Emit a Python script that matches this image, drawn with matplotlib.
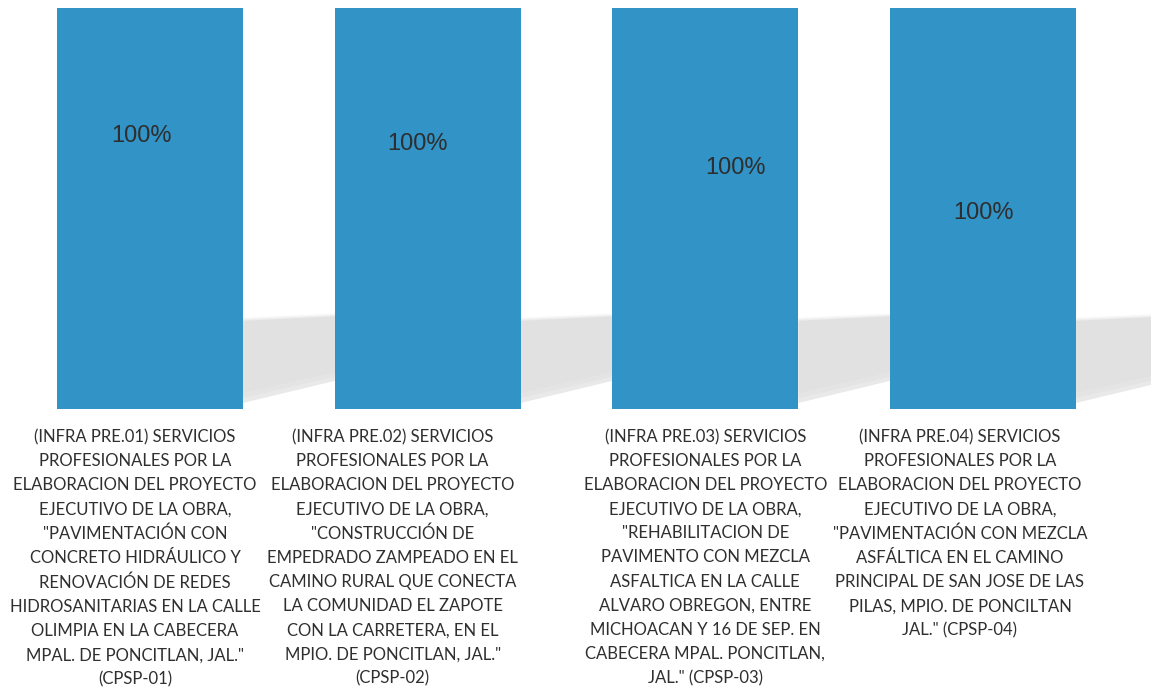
import numpy as np
import matplotlib
matplotlib.use("Agg")
from matplotlib import pyplot as plt
from matplotlib.patches import Polygon

categories = [
    "(INFRA PRE.01) SERVICIOS\nPROFESIONALES POR LA\nELABORACION DEL PROYECTO\nEJECUTIVO DE LA OBRA,\n"
    "\"PAVIMENTACIÓN CON\nCONCRETO HIDRÁULICO Y\nRENOVACIÓN DE REDES\nHIDROSANITARIAS EN LA CALLE\n"
    "OLIMPIA EN LA CABECERA\nMPAL. DE PONCITLAN, JAL.\"\n(CPSP-01)",
    "(INFRA PRE.02) SERVICIOS\nPROFESIONALES POR LA\nELABORACION DEL PROYECTO\nEJECUTIVO DE LA OBRA,\n"
    "\"CONSTRUCCIÓN DE\nEMPEDRADO ZAMPEADO EN EL\nCAMINO RURAL QUE CONECTA\nLA COMUNIDAD EL ZAPOTE\n"
    "CON LA CARRETERA, EN EL\nMPIO. DE PONCITLAN, JAL.\"\n(CPSP-02)",
    "(INFRA PRE.03) SERVICIOS\nPROFESIONALES POR LA\nELABORACION DEL PROYECTO\nEJECUTIVO DE LA OBRA,\n"
    "\"REHABILITACION DE\nPAVIMENTO CON MEZCLA\nASFALTICA EN LA CALLE\nALVARO OBREGON, ENTRE\n"
    "MICHOACAN Y 16 DE SEP. EN\nCABECERA MPAL. PONCITLAN,\nJAL.\" (CPSP-03)",
    "(INFRA PRE.04) SERVICIOS\nPROFESIONALES POR LA\nELABORACION DEL PROYECTO\nEJECUTIVO DE LA OBRA,\n"
    "\"PAVIMENTACIÓN CON MEZCLA\nASFÁLTICA EN EL CAMINO\nPRINCIPAL DE SAN JOSE DE LAS\nPILAS, MPIO. DE PONCILTAN\n"
    "JAL.\" (CPSP-04)",
]
values = [100, 100, 100, 100]
value_labels = ["100%", "100%", "100%", "100%"]

BAR_COLOR = "#3193c6"

fig = plt.figure(figsize=(11.51, 6.94), dpi=100)
ax = fig.add_axes([0, 285 / 694, 1, 401 / 694])

x = np.arange(len(values))
width = 0.67

# soft perspective shadow to the right of each bar
for xi in x:
    x0 = xi + width / 2
    for grow, alpha in [(2.5, 0.2), (1.2, 0.3), (0, 0.55)]:
        g = grow * 0.01
        poly = Polygon([(x0, 1.5 + grow), (x0, 22 + grow * 0.3),
                        (x0 + 0.45 + g, 23.5 + grow * 0.3), (x0 + 0.45 + g, 9 + grow)],
                       closed=True, facecolor="#d8d8d8", edgecolor="none",
                       alpha=alpha, zorder=1)
        ax.add_patch(poly)

ax.bar(x, values, width=width, color=BAR_COLOR, zorder=2)

# data labels sit at different heights inside the bars, like the original
label_pos = [68.2, 66.2, 60, 49]
label_dx = [-0.03, -0.036, 0.108, 0.0]
for xi, v, lab, ly, dx in zip(x, values, value_labels, label_pos, label_dx):
    ax.text(xi + dx, ly, lab, ha="center", va="center", fontsize=17,
            family="Liberation Sans", color="#2e2e2e", zorder=3)

cat_dx = [-0.054, -0.126, 0.0, -0.083]
for xi, cat, dx in zip(x, categories, cat_dx):
    ax.text(xi + dx, -5.0, cat, ha="center", va="top", fontsize=12,
            family="Lato", color="#2f2f2f", linespacing=1.62, zorder=3)

ax.set_xlim(-0.54, 3.605)
ax.set_ylim(0, 100)
ax.axis("off")

fig.savefig("out.png", dpi=100)
